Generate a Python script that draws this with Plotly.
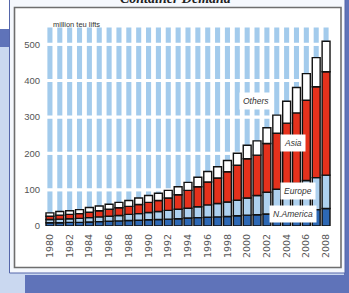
import plotly.graph_objects as go

# ---- data (million TEU lifts) ----
years = list(range(1980, 2009))
n_america = [9, 9, 10, 10, 11, 12, 13, 14, 15, 16, 17, 18, 19, 20, 22, 23, 24, 25, 26, 28, 30, 31, 33, 35, 38, 40, 43, 45, 48]
europe = [9, 10, 10, 11, 12, 13, 14, 15, 17, 18, 20, 22, 24, 26, 27, 30, 34, 37, 40, 43, 47, 53, 60, 66, 71, 77, 82, 88, 92]
asia = [9, 11, 12, 13, 15, 17, 19, 21, 22, 25, 28, 30, 34, 40, 49, 55, 63, 70, 83, 96, 108, 111, 134, 154, 174, 194, 221, 250, 284]
others = [9, 10, 10, 11, 13, 13, 14, 15, 16, 18, 19, 20, 21, 22, 22, 26, 29, 31, 31, 33, 37, 39, 43, 50, 60, 70, 73, 80, 84]
tick_years = list(range(1980, 2009, 2))
y_ticks = [0, 100, 200, 300, 400, 500]
band_edges = [0, 100, 200, 300, 400, 500, 550]

# ---- geometry helpers (decoration only) ----
W, H = 349, 293
L, R, T, B = 45, 18, 26, 67
PW, PH = W - L - R, H - T - B


def fx(px):
    return (px - L) / PW


def fy(py):
    return (H - B - py) / PH


fig = go.Figure()

# background columns (light blue hatched backdrop)
bx, bbase, bh = [], [], []
for i in range(len(band_edges) - 1):
    for yr in years:
        bx.append(yr)
        bbase.append(band_edges[i])
        bh.append(band_edges[i + 1] - band_edges[i])
fig.add_trace(go.Bar(x=bx, y=bh, base=bbase, width=0.82,
                     marker=dict(color="#a3cbec", line=dict(color="white", width=3)),
                     showlegend=False, hoverinfo="skip"))

# stacked data bars
base_eu = n_america
base_as = [a + b for a, b in zip(n_america, europe)]
base_ot = [a + b for a, b in zip(base_as, asia)]
series = [
    ("N.America", n_america, [0] * len(years), "#2d68b4"),
    ("Europe", europe, base_eu, "#aed1ef"),
    ("Asia", asia, base_as, "#e5311c"),
    ("Others", others, base_ot, "#ffffff"),
]
for name, vals, base, col in series:
    fig.add_trace(go.Bar(x=years, y=vals, base=base, name=name, width=0.8,
                         marker=dict(color=col, line=dict(color="#111111", width=1.4)),
                         showlegend=False))

shapes = [
    dict(type="rect", xref="paper", yref="paper", x0=fx(0), x1=fx(10), y0=fy(0), y1=fy(29),
         fillcolor="#ffffff", line=dict(width=0), layer="below"),
    dict(type="rect", xref="paper", yref="paper", x0=fx(0), x1=fx(10), y0=fy(29), y1=fy(47),
         fillcolor="#5f73b9", line=dict(width=0), layer="below"),
    dict(type="rect", xref="paper", yref="paper", x0=fx(344), x1=fx(349), y0=fy(0), y1=fy(293),
         fillcolor="#5f73b9", line=dict(width=0), layer="below"),
    dict(type="rect", xref="paper", yref="paper", x0=fx(25), x1=fx(349), y0=fy(275), y1=fy(293),
         fillcolor="#5f73b9", line=dict(width=0), layer="below"),
    dict(type="rect", xref="paper", yref="paper", x0=fx(9.5), x1=fx(345), y0=fy(-5), y1=fy(273),
         fillcolor="#f5f8fd", line=dict(color="#5566aa", width=1), layer="below"),
    dict(type="rect", xref="paper", yref="paper", x0=fx(14.5), x1=fx(341), y0=fy(7.5), y1=fy(267.5),
         fillcolor="#ffffff", line=dict(color="#6e6e6e", width=1.6), layer="below"),
]

lab_font = dict(family="Liberation Sans", size=8.5, color="#333333", style="italic")
annotations = [
    dict(text="Container Demand", xref="paper", yref="paper", x=fx(176), y=fy(-1.5),
         xanchor="center", yanchor="middle", showarrow=False,
         font=dict(family="Liberation Serif", size=14, color="#222222", style="italic", weight="bold")),
    dict(text="million teu lifts", xref="paper", yref="paper", x=fx(51), y=fy(24),
         xanchor="left", yanchor="middle", showarrow=False,
         font=dict(family="Liberation Sans", size=7.5, color="#333333")),
    dict(text="Others", x=2000.9, y=343, showarrow=False, bgcolor="white", borderpad=3, font=lab_font),
    dict(text="Asia", x=2004.65, y=228, showarrow=False, bgcolor="white", borderpad=3, font=lab_font),
    dict(text="Europe", x=2005.2, y=96, showarrow=False, bgcolor="white", borderpad=3, font=lab_font),
    dict(text="N.America", x=2004.65, y=33, showarrow=False, bgcolor="white", borderpad=3, font=lab_font),
]

fig.update_layout(
    width=W, height=H,
    margin=dict(l=L, r=R, t=T, b=B, pad=0),
    barmode="overlay",
    paper_bgcolor="#cad8f0",
    plot_bgcolor="rgba(0,0,0,0)",
    shapes=shapes,
    annotations=annotations,
    xaxis=dict(range=[1979.5, 2008.5], tickmode="array", tickvals=tick_years,
               ticktext=[str(y) for y in tick_years], tickangle=-90,
               tickfont=dict(family="DejaVu Sans", size=9.5, color="#555555"),
               showgrid=False, zeroline=False, showline=False, ticks="",
               ticklabelstandoff=5, fixedrange=True),
    yaxis=dict(range=[0, 550], tickmode="array", tickvals=y_ticks,
               tickfont=dict(family="Liberation Sans", size=9.5, color="#555555"),
               showgrid=False, zeroline=False, showline=False, ticks="",
               ticklabelstandoff=4, fixedrange=True),
)

fig.write_html("out.html", config={"displayModeBar": False},
               post_script="document.body.style.margin='0px';document.body.style.overflow='hidden';")
